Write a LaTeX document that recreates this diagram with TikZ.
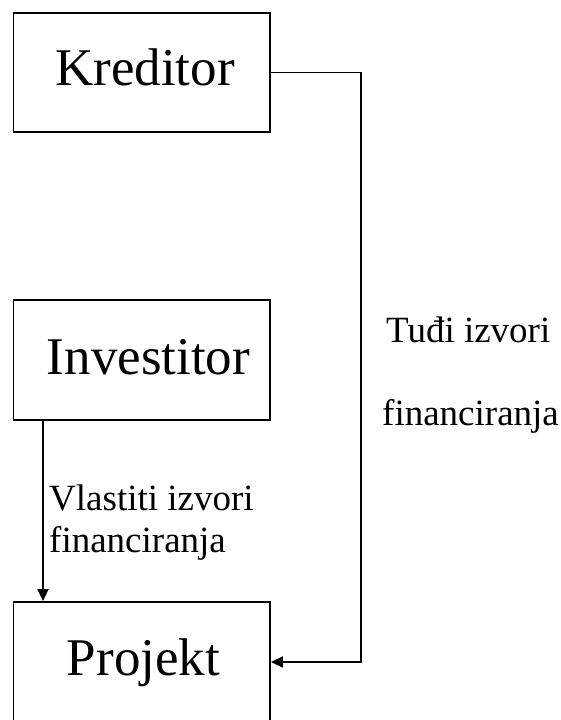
\documentclass[tikz,border=0pt]{standalone}
\usepackage{fontspec}
\setmainfont{Liberation Serif}
\usetikzlibrary{arrows.meta}
\begin{document}
\begin{tikzpicture}[x=1pt,y=-1pt,
  box/.style={draw,line width=1.9pt,rectangle,inner sep=0pt},
  big/.style={font=\fontsize{53}{60}\selectfont,anchor=base,inner sep=0pt},
  lbl/.style={font=\fontsize{37}{42}\selectfont,anchor=base west,inner sep=0pt},
  conn/.style={line width=1.9pt},
  tip/.style={-{Triangle[length=12pt,width=11pt]}}]
\useasboundingbox (0,0) rectangle (560,720);
\clip (0,0) rectangle (560,720);
\node[box,minimum width=256.5pt,minimum height=119pt] (kred) at (141.75,72.5) {};
\node[box,minimum width=256.5pt,minimum height=120pt] (inv) at (141.75,360) {};
\node[box,minimum width=256.5pt,minimum height=140pt] (proj) at (141.75,672) {};
\node[big] (tk) at (145,85) {Kreditor};
\node[big] (ti) at (148.5,374) {Investitor};
\node[big] (tp) at (143.5,675) {Projekt};
\coordinate (c1) at (361,662);
\coordinate (a1) at (43,0);
\draw[conn,tip] (kred.east) -| (c1) -- (c1 -| proj.east);
\draw[conn,tip] (a1 |- inv.south) -- (a1 |- proj.north);
\node[lbl] (l1) at (49,510) {Vlastiti izvori};
\node[lbl] (l2) at (49,552) {financiranja};
\node[lbl] (l3) at (386,342) {Tuđi izvori};
\node[lbl] (l4) at (382,425) {financiranja};
\end{tikzpicture}
\end{document}
